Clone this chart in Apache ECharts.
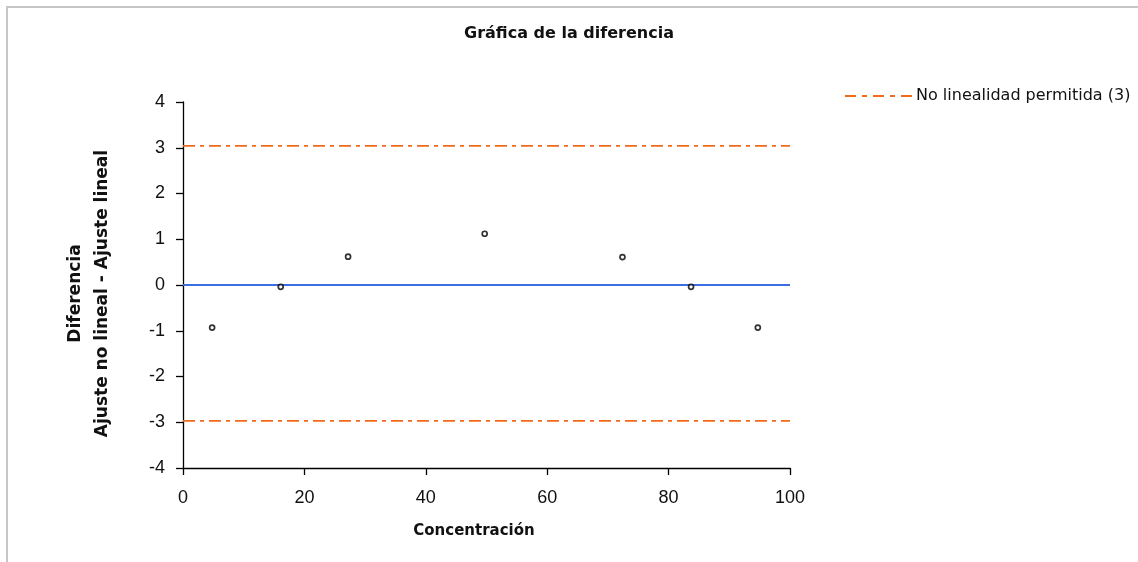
<!DOCTYPE html>
<html>
<head>
<meta charset="utf-8">
<script src="https://cdn.jsdelivr.net/npm/echarts@6/dist/echarts.min.js"></script>
<style>html,body{margin:0;padding:0;background:#fff;}#c{width:1138px;height:562px;}</style>
</head>
<body>
<div id="c"></div>
<script>
const titleText = 'Gráfica de la diferencia';
const xName = 'Concentración';
const yNameLines = ['Diferencia', 'Ajuste no lineal - Ajuste lineal'];
const legendName = 'No linealidad permitida (3)';
const concentration = [4.8, 16.1, 27.2, 49.7, 72.4, 83.7, 94.7];
const difference = [-0.93, -0.04, 0.62, 1.12, 0.61, -0.04, -0.93];
const xRange = [0, 100];
const upperLimit = 3.04;
const lowerLimit = -2.97;
const zeroLevel = 0;

const pts = concentration.map((c, i) => [c, difference[i]]);
const lineAt = v => xRange.map(x => [x, v]);
const labelFont = '"Liberation Sans", Arial, sans-serif';
const headFont = '"DejaVu Sans", sans-serif';
const orange = '#f26a1b';

const chart = echarts.init(document.getElementById('c'), null, {renderer: 'canvas'});
chart.setOption({
  animation: false,
  backgroundColor: '#fff',
  title: {
    text: titleText, left: 'center', top: 21,
    textStyle: {fontFamily: headFont, fontWeight: 'bold', fontSize: 16, color: '#111'}
  },
  legend: {
    left: 839, top: 83, itemWidth: 68, itemHeight: 14, itemGap: 10,
    data: [legendName],
    itemStyle: {opacity: 0},
    lineStyle: {type: [11, 6, 5, 6], width: 2},
    textStyle: {fontFamily: headFont, fontSize: 16, color: '#111', padding: [0,0,0,-2]}
  },
  grid: {left: 183, right: 348, top: 102, bottom: 94},
  xAxis: {
    type: 'value', min: 0, max: 100, interval: 20,
    axisLine: {onZero: false, lineStyle: {color: '#000', width: 1.3}},
    axisTick: {show: true, length: 7, lineStyle: {color: '#000', width: 1.3}},
    axisLabel: {margin: 21, fontFamily: labelFont, fontSize: 18, color: '#111'},
    splitLine: {show: false}
  },
  yAxis: {
    type: 'value', min: -4, max: 4, interval: 1,
    axisLine: {show: true, onZero: false, lineStyle: {color: '#000', width: 1.3}},
    axisTick: {show: true, length: 7, lineStyle: {color: '#000', width: 1.3}},
    axisLabel: {margin: 18, fontFamily: labelFont, fontSize: 18, color: '#111'},
    splitLine: {show: false}
  },
  graphic: [
    {type: 'rect', shape: {x: 7, y: 7, width: 1200, height: 600}, style: {fill: 'none', stroke: '#c6c6c6', lineWidth: 2}, silent: true},
    {type: 'text', x: 474, y: 531, style: {text: xName, font: 'bold 15px ' + headFont, fill: '#111', textAlign: 'center', textVerticalAlign: 'middle'}},
    {type: 'text', x: 89, y: 293.5, rotation: Math.PI / 2, style: {text: yNameLines.join('\n'), font: 'bold 17px ' + headFont, lineHeight: 27, fill: '#111', textAlign: 'center', textVerticalAlign: 'middle'}}
  ],
  series: [
    {
      name: 'cero', type: 'line', data: lineAt(zeroLevel), symbol: 'none',
      lineStyle: {color: '#3b6fe0', width: 1.8}, z: 2
    },
    {
      name: legendName, type: 'line', data: lineAt(upperLimit), symbol: 'none',
      lineStyle: {color: orange, width: 1.8, type: [12, 5, 4, 5]}, itemStyle: {color: orange}, z: 2
    },
    {
      name: legendName, type: 'line', data: lineAt(lowerLimit), symbol: 'none',
      lineStyle: {color: orange, width: 1.8, type: [12, 5, 4, 5]}, itemStyle: {color: orange}, z: 2
    },
    {
      name: 'Diferencia', type: 'scatter', data: pts, symbol: 'circle', symbolSize: 5,
      itemStyle: {color: '#fff', borderColor: '#000', borderWidth: 1.7}, z: 5
    }
  ]
});
</script>
</body>
</html>
